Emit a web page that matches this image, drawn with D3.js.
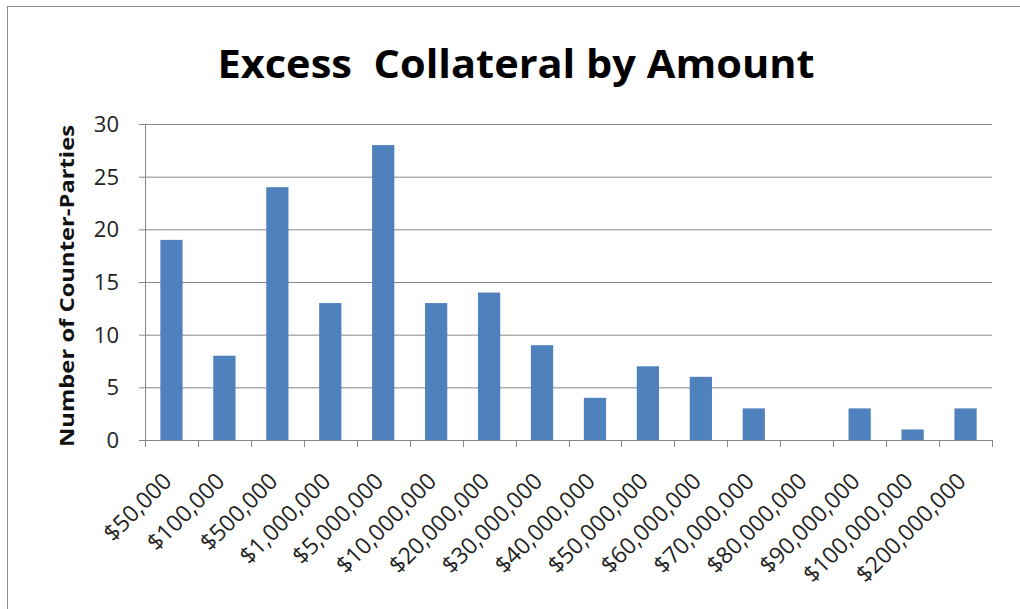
<!DOCTYPE html>
<html>
<head>
<meta charset="utf-8">
<script src="https://cdn.jsdelivr.net/npm/d3@7"></script>
<style>
  body { margin: 0; background: #fff; }
  text { font-family: "Open Sans", "DejaVu Sans", sans-serif; }
</style>
</head>
<body>
<svg id="chart" width="1020" height="609"></svg>
<script>
// collateral buckets and counts
var categories = ["$50,000", "$100,000", "$500,000", "$1,000,000", "$5,000,000",
  "$10,000,000", "$20,000,000", "$30,000,000", "$40,000,000", "$50,000,000",
  "$60,000,000", "$70,000,000", "$80,000,000", "$90,000,000", "$100,000,000", "$200,000,000"];
var counts = [19, 8, 24, 13, 28, 13, 14, 9, 4, 7, 6, 3, 0, 3, 1, 3];
var yTicks = [0, 5, 10, 15, 20, 25, 30];

var svg = d3.select('#chart');

var plot = {left: 145, right: 992, top: 124, bottom: 440};

// outer frame
svg.append('rect')
  .attr('x', 7.5).attr('y', 6.5)
  .attr('width', 1030).attr('height', 640)
  .attr('fill', 'none').attr('stroke', '#8c8c8c');

var x = d3.scaleBand()
  .domain(categories)
  .range([plot.left, plot.right])
  .paddingInner(0.58).paddingOuter(0.29);

var y = d3.scaleLinear().domain([0, 30]).range([plot.bottom, plot.top]);

// gridlines
svg.append('g').selectAll('line')
  .data(yTicks.filter(function(d){ return d > 0; }))
  .enter().append('line')
  .attr('x1', plot.left - 6).attr('x2', plot.right)
  .attr('y1', function(d){ return y(d) + 0.5; })
  .attr('y2', function(d){ return y(d) + 0.5; })
  .attr('stroke', '#878787').attr('stroke-width', 1);

// y tick labels
svg.append('g').selectAll('text')
  .data(yTicks)
  .enter().append('text')
  .attr('x', plot.left - 26)
  .attr('y', function(d){ return y(d); })
  .attr('dy', '0.36em')
  .attr('text-anchor', 'end')
  .attr('font-size', 22)
  .attr('fill', '#222')
  .text(function(d){ return d; });

// bars
svg.append('g').selectAll('rect')
  .data(counts)
  .enter().append('rect')
  .attr('x', function(d, i){ return x(categories[i]); })
  .attr('y', function(d){ return y(d); })
  .attr('width', x.bandwidth())
  .attr('height', function(d){ return plot.bottom - y(d); })
  .attr('fill', '#4f81bd');

// axes lines
svg.append('line')
  .attr('x1', plot.left + 0.5).attr('x2', plot.left + 0.5)
  .attr('y1', plot.top).attr('y2', plot.bottom)
  .attr('stroke', '#878787');
svg.append('line')
  .attr('x1', plot.left - 6).attr('x2', plot.right)
  .attr('y1', plot.bottom + 0.5).attr('y2', plot.bottom + 0.5)
  .attr('stroke', '#878787');

// x ticks at category boundaries
var bounds = d3.range(categories.length + 1).map(function(i){ return plot.left + i * (plot.right - plot.left) / categories.length; });
svg.append('g').selectAll('line')
  .data(bounds)
  .enter().append('line')
  .attr('x1', function(d){ return Math.round(d) + 0.5; })
  .attr('x2', function(d){ return Math.round(d) + 0.5; })
  .attr('y1', plot.bottom).attr('y2', plot.bottom + 7)
  .attr('stroke', '#878787');

// x labels, rotated
svg.append('g').selectAll('text')
  .data(categories)
  .enter().append('text')
  .attr('transform', function(d){
    return 'translate(' + (x(d) + x.bandwidth() / 2 - 4) + ',' + (plot.bottom + 37) + ') rotate(-45)';
  })
  .attr('text-anchor', 'end')
  .attr('dy', '0.35em')
  .attr('font-size', 23)
  .attr('fill', '#222')
  .text(function(d){ return d; });

// y axis title
svg.append('text')
  .attr('transform', 'translate(74,' + ((plot.top + plot.bottom) / 2 + 4) + ') rotate(-90)')
  .attr('text-anchor', 'middle')
  .attr('font-size', 20)
  .attr('font-weight', 'bold')
  .attr('fill', '#111')
  .attr('textLength', 322)
  .attr('lengthAdjust', 'spacingAndGlyphs')
  .text('Number of Counter-Parties');

// title
svg.append('text')
  .attr('x', 516).attr('y', 78)
  .attr('text-anchor', 'middle')
  .attr('font-size', 40)
  .attr('font-weight', 'bold')
  .attr('fill', '#000')
  .attr('textLength', 597)
  .attr('lengthAdjust', 'spacingAndGlyphs')
  .style('white-space', 'pre')
  .text('Excess  Collateral by Amount');
</script>
</body>
</html>
